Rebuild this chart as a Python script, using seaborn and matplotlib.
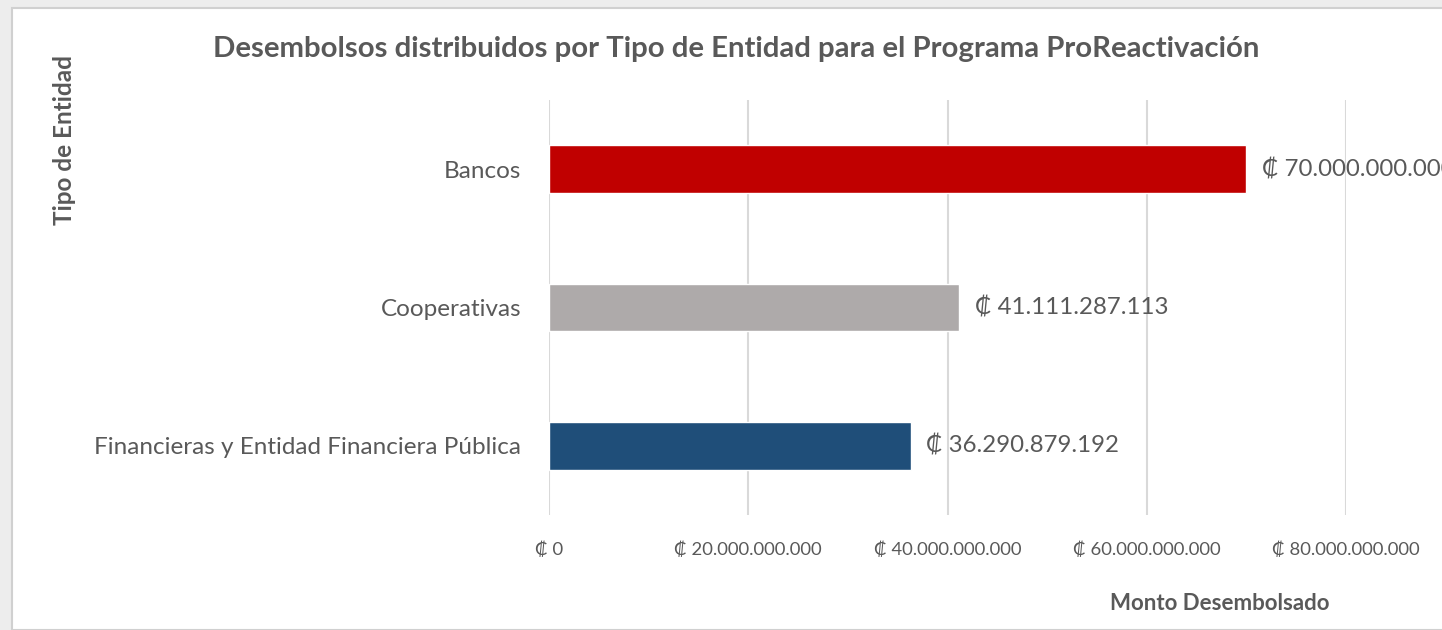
import matplotlib
matplotlib.use("Agg")
import matplotlib.pyplot as plt
import matplotlib.patches as mpatches
import seaborn as sns
import pandas as pd

# Data
entidades = ["Bancos", "Cooperativas", "Financieras y Entidad Financiera Pública"]
montos = [70000000000, 41111287113, 36290879192]
etiquetas = ["₡ 70.000.000.000", "₡ 41.111.287.113", "₡ 36.290.879.192"]
colores = ["#C00000", "#AEAAAA", "#1F4E79"]
ticks_x = [0, 20000000000, 40000000000, 60000000000, 80000000000]
ticks_x_labels = ["₡ 0", "₡ 20.000.000.000", "₡ 40.000.000.000", "₡ 60.000.000.000", "₡ 80.000.000.000"]

df = pd.DataFrame({"entidad": entidades, "monto": montos})

sns.set_theme(style="white")
plt.rcParams["font.family"] = ["Lato", "DejaVu Sans"]

TXT = "#595959"

fig = plt.figure(figsize=(14.42, 6.3), dpi=100)
fig.patch.set_facecolor("#EDEDED")
# chart area border like the office chart
fig.patches.append(mpatches.Rectangle((12 / 1442, 0), 1.0, 1 - 8 / 630, transform=fig.transFigure,
                                      facecolor="white", edgecolor="#D0D0D0", linewidth=1.5, zorder=-5))

ax = fig.add_axes([549 / 1442, 1 - 515 / 630, (1346 - 549) / 1442, (515 - 100) / 630])
ax.set_zorder(2)
ax.set_facecolor("none")

sns.barplot(data=df, x="monto", y="entidad", hue="entidad", palette=colores,
            width=0.345, legend=False, ax=ax, saturation=1, zorder=3)

ax.set_xlim(0, 80000000000)
ax.set_ylim(2.5, -0.5)
ax.set_xticks(ticks_x)
ax.set_xticklabels(ticks_x_labels, fontsize=13.3, color=TXT)
ax.tick_params(axis="y", labelsize=17.5, colors=TXT, pad=20, length=0)
ax.tick_params(axis="x", pad=19, length=0)
ax.grid(axis="x", color="#D9D9D9", linewidth=1.5, zorder=0)
for s in ax.spines.values():
    s.set_visible(False)
ax.set_xlabel("")
ax.set_ylabel("")

# value labels; the first one runs off the right edge, as in the reference
for i, (v, t) in enumerate(zip(montos, etiquetas)):
    ax.text(v + 1.6e9, i, t, va="center", ha="left", fontsize=17.3, color=TXT, clip_on=False)

fig.text(736 / 1442, 1 - 49 / 630, "Desembolsos distribuidos por Tipo de Entidad para el Programa ProReactivación",
         ha="center", va="center", fontsize=21.2, fontweight="bold", color=TXT)
fig.text(65 / 1442, 1 - 140 / 630, "Tipo de Entidad", rotation=90, ha="center", va="center",
         fontsize=17.5, fontweight="bold", color=TXT)
fig.text(1220 / 1442, 1 - 603 / 630, "Monto Desembolsado", ha="center", va="center",
         fontsize=16, fontweight="bold", color=TXT)

fig.savefig("out.png", dpi=100)
